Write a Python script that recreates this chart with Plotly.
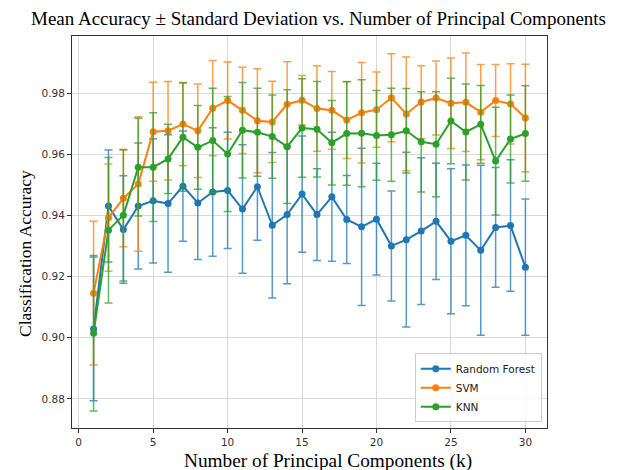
import plotly.graph_objects as go

k = list(range(1, 31))

rf_mean = [0.9029, 0.9431, 0.9354, 0.9431, 0.9448, 0.9439, 0.9496, 0.9441, 0.9477, 0.9482,
           0.9421, 0.9494, 0.9368, 0.9403, 0.9470, 0.9403, 0.9461, 0.9387, 0.9363, 0.9388,
           0.9300, 0.9321, 0.9349, 0.9381, 0.9316, 0.9335, 0.9286, 0.9361, 0.9367, 0.9231]
rf_std = [0.0235, 0.0183, 0.0176, 0.0206, 0.0203, 0.0225, 0.0180, 0.0185, 0.0210, 0.0190,
          0.0210, 0.0175, 0.0238, 0.0226, 0.0190, 0.0150, 0.0211, 0.0144, 0.0257, 0.0183,
          0.0180, 0.0286, 0.0240, 0.0190, 0.0237, 0.0230, 0.0278, 0.0196, 0.0215, 0.0223]

svm_mean = [0.9146, 0.9393, 0.9456, 0.9503, 0.9674, 0.9677, 0.9699, 0.9677, 0.9751, 0.9776,
            0.9744, 0.9710, 0.9706, 0.9764, 0.9777, 0.9750, 0.9744, 0.9712, 0.9736, 0.9746,
            0.9785, 0.9732, 0.9771, 0.9784, 0.9767, 0.9770, 0.9738, 0.9776, 0.9765, 0.9719]
svm_std = [0.0235, 0.0175, 0.0158, 0.0220, 0.0162, 0.0161, 0.0136, 0.0153, 0.0156, 0.0126,
           0.0141, 0.0170, 0.0133, 0.0139, 0.0081, 0.0140, 0.0127, 0.0126, 0.0164, 0.0123,
           0.0144, 0.0186, 0.0119, 0.0121, 0.0148, 0.0161, 0.0156, 0.0118, 0.0131, 0.0176]

knn_mean = [0.9015, 0.9352, 0.9401, 0.9558, 0.9558, 0.9585, 0.9656, 0.9623, 0.9645, 0.9601,
            0.9679, 0.9672, 0.9658, 0.9625, 0.9686, 0.9682, 0.9638, 0.9668, 0.9669, 0.9662,
            0.9664, 0.9677, 0.9641, 0.9633, 0.9709, 0.9673, 0.9698, 0.9578, 0.9650, 0.9668]
knn_std = [0.0254, 0.0238, 0.0215, 0.0160, 0.0178, 0.0113, 0.0177, 0.0137, 0.0171, 0.0188,
           0.0156, 0.0144, 0.0136, 0.0186, 0.0161, 0.0156, 0.0138, 0.0169, 0.0175, 0.0147,
           0.0152, 0.0138, 0.0164, 0.0172, 0.0140, 0.0157, 0.0127, 0.0176, 0.0144, 0.0156]

series = [
    ("Random Forest", rf_mean, rf_std, "#1f77b4", "rgba(31,119,180,0.75)"),
    ("SVM", svm_mean, svm_std, "#ff7f0e", "rgba(255,127,14,0.75)"),
    ("KNN", knn_mean, knn_std, "#2ca02c", "rgba(44,160,44,0.75)"),
]

fig = go.Figure()
for name, m, s, col, ecol in series:
    fig.add_trace(go.Scatter(
        x=k, y=m, name=name, mode="lines+markers",
        line=dict(color=col, width=2),
        marker=dict(color=col, size=7),
        error_y=dict(type="data", array=s, visible=True, color=ecol, thickness=1.5, width=4),
    ))

serif = "Liberation Serif, Times New Roman, serif"
sans = "DejaVu Sans, sans-serif"

# page body has an 8px margin, so the figure is laid out 8px smaller / shifted
W, H = 612, 462
L, T, PW, PH = 64, 28, 475, 392

fig.update_layout(
    width=W, height=H,
    margin=dict(l=L, r=W - L - PW, t=T, b=H - T - PH),
    paper_bgcolor="white", plot_bgcolor="white",
    showlegend=True,
    legend=dict(x=0.989, y=0.0145, xanchor="right", yanchor="bottom",
                bgcolor="rgba(255,255,255,0.8)", bordercolor="#cccccc", borderwidth=1,
                font=dict(family=sans, size=10.5, color="#222"),
                tracegroupgap=0),
    title=dict(text="Mean Accuracy ± Standard Deviation vs. Number of Principal Components",
               x=310.5 / W, xref="container", xanchor="center",
               y=1 - 10.5 / H, yref="container", yanchor="middle",
               font=dict(family=serif, size=19, color="black")),
    annotations=[
        dict(text="Number of Principal Components (k)", xref="paper", yref="paper",
             x=(320 - L) / PW, y=(T + PH - 453) / PH, xanchor="center", yanchor="middle",
             showarrow=False, font=dict(family=serif, size=19.3, color="black")),
        dict(text="Classification Accuracy", xref="paper", yref="paper",
             x=(17 - L) / PW, y=(T + PH - 246) / PH, xanchor="center", yanchor="middle",
             textangle=-90, showarrow=False, font=dict(family=serif, size=17.5, color="black")),
    ],
)

fig.update_xaxes(
    range=[-0.45, 31.45], tickmode="linear", tick0=0, dtick=5,
    showgrid=True, gridcolor="#d9d9d9", gridwidth=1, zeroline=False,
    showline=True, mirror=True, linecolor="#333", linewidth=1,
    ticks="outside", ticklen=4, tickcolor="#333",
    tickfont=dict(family=sans, size=10.5, color="#333"),
)
fig.update_yaxes(
    range=[0.8705, 0.9987], tickvals=[0.88, 0.90, 0.92, 0.94, 0.96, 0.98], tickformat=".2f",
    showgrid=True, gridcolor="#d9d9d9", gridwidth=1, zeroline=False,
    showline=True, mirror=True, linecolor="#333", linewidth=1,
    ticks="outside", ticklen=4, tickcolor="#333",
    tickfont=dict(family=sans, size=10.5, color="#333"),
)

fig.write_html("out.html")
